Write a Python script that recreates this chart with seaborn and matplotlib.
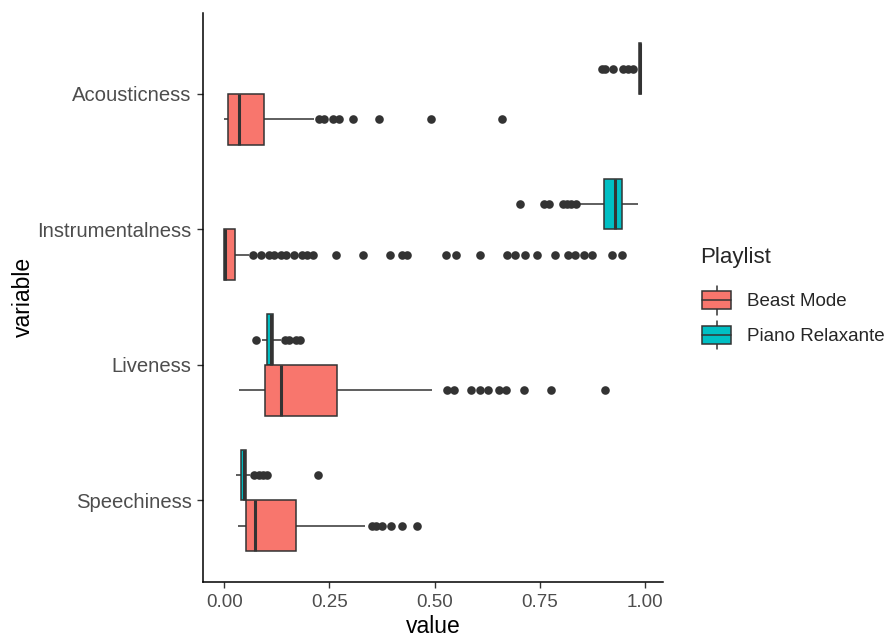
import numpy as np
import pandas as pd
import matplotlib
matplotlib.use('Agg')
import matplotlib.pyplot as plt
import seaborn as sns
from matplotlib.patches import Patch, Rectangle
from matplotlib.lines import Line2D
from matplotlib.legend_handler import HandlerBase

sns.set_style("ticks")
plt.rcParams['font.family'] = ['Liberation Sans', 'DejaVu Sans']

variables = ['Acousticness', 'Instrumentalness', 'Liveness', 'Speechiness']
playlists = ['Beast Mode', 'Piano Relaxante']
colors = {'Beast Mode': '#F8766D', 'Piano Relaxante': '#00BFC4'}

# values (box, whiskers and the outlier dots)
acoustic_beast = [0.000, 0.002, 0.003, 0.004, 0.005, 0.006, 0.007, 0.008, 0.009, 0.010,
                  0.012, 0.014, 0.017, 0.020, 0.023, 0.026, 0.029, 0.032, 0.035,
                  0.040, 0.046, 0.052, 0.058, 0.064, 0.071, 0.079, 0.087, 0.094,
                  0.214, 0.226, 0.238, 0.258, 0.273, 0.305, 0.368, 0.491, 0.660]
acoustic_piano = [0.897, 0.905, 0.925, 0.949, 0.960, 0.972,
                  0.986, 0.987, 0.987, 0.988, 0.988, 0.988, 0.989, 0.989, 0.989, 0.989,
                  0.989, 0.989, 0.990, 0.990, 0.990, 0.990, 0.991, 0.991, 0.992]

instr_beast = [0.0, 0.0, 0.0, 0.0, 0.0, 0.0, 0.0, 0.0, 0.0, 0.0,
               0.0, 0.0, 0.0, 0.0, 0.0, 0.0, 0.0, 0.0, 0.0, 0.0,
               0.0, 0.0, 0.0, 0.0, 0.0, 0.0, 0.0, 0.0, 0.0, 0.0, 0.0,
               0.00002, 0.00004, 0.00006, 0.00008, 0.0001, 0.00012, 0.00015, 0.00018, 0.0002, 0.00023,
               0.00026, 0.0003, 0.00033, 0.00036, 0.0004, 0.00044, 0.00048, 0.00052, 0.00056, 0.0006,
               0.00064, 0.00068, 0.00072, 0.00076, 0.0008, 0.00084, 0.00088, 0.00092, 0.00096,
               0.001,
               0.0012, 0.0014, 0.0017, 0.002, 0.0023, 0.0027, 0.0031, 0.0036, 0.0041, 0.0047,
               0.0053, 0.006, 0.0067, 0.0075, 0.0083, 0.0092, 0.0101, 0.011, 0.012, 0.013,
               0.014, 0.0151, 0.0162, 0.0174, 0.0186, 0.0199, 0.0212, 0.0226, 0.024,
               0.026, 0.058,
               0.068, 0.088, 0.107, 0.119, 0.135, 0.147, 0.167, 0.186, 0.198, 0.210,
               0.265, 0.329, 0.394, 0.423, 0.435, 0.528, 0.552, 0.607, 0.672, 0.692,
               0.716, 0.743, 0.787, 0.818, 0.834, 0.854, 0.874, 0.921, 0.945]
instr_piano = [0.702, 0.759, 0.771, 0.806, 0.815, 0.825, 0.835, 0.846,
               0.903, 0.906, 0.909, 0.912, 0.915, 0.918, 0.921, 0.925, 0.929,
               0.931, 0.933, 0.935, 0.937, 0.939, 0.941, 0.943, 0.945,
               0.948, 0.951, 0.955, 0.959, 0.964, 0.970, 0.977, 0.984]

live_beast = [0.036, 0.045, 0.055, 0.062, 0.068, 0.074, 0.079, 0.084, 0.088, 0.091, 0.094,
              0.097, 0.100, 0.103, 0.106, 0.109, 0.112, 0.115, 0.119, 0.123, 0.127, 0.131,
              0.134, 0.140, 0.148, 0.157, 0.167, 0.178, 0.190, 0.204, 0.219, 0.235, 0.251,
              0.268, 0.494,
              0.530, 0.546, 0.587, 0.607, 0.626, 0.652, 0.669, 0.712, 0.777, 0.905]
live_piano = [0.075, 0.090, 0.095, 0.098, 0.100, 0.101, 0.104, 0.106, 0.108, 0.110, 0.111,
              0.112, 0.113, 0.115, 0.116, 0.117, 0.136, 0.145, 0.155, 0.170, 0.180]

speech_beast = [0.032, 0.036, 0.040, 0.043, 0.046, 0.048, 0.050, 0.052,
                0.055, 0.058, 0.061, 0.064, 0.067, 0.070, 0.0735,
                0.080, 0.090, 0.102, 0.116, 0.133, 0.151, 0.171, 0.335,
                0.352, 0.362, 0.374, 0.397, 0.423, 0.459]
speech_piano = [0.028, 0.031, 0.033, 0.035, 0.037, 0.039, 0.040,
                0.042, 0.043, 0.045, 0.046, 0.047, 0.048,
                0.049, 0.049, 0.050, 0.051, 0.051, 0.052, 0.062,
                0.072, 0.082, 0.092, 0.101, 0.222]

groups = {
    ('Acousticness', 'Beast Mode'): acoustic_beast,
    ('Acousticness', 'Piano Relaxante'): acoustic_piano,
    ('Instrumentalness', 'Beast Mode'): instr_beast,
    ('Instrumentalness', 'Piano Relaxante'): instr_piano,
    ('Liveness', 'Beast Mode'): live_beast,
    ('Liveness', 'Piano Relaxante'): live_piano,
    ('Speechiness', 'Beast Mode'): speech_beast,
    ('Speechiness', 'Piano Relaxante'): speech_piano,
}

rows = []
for (var, pl), vals in groups.items():
    for v in vals:
        rows.append({'variable': var, 'value': v, 'Playlist': pl})
df = pd.DataFrame(rows)

edge = '#333333'

fig = plt.figure(figsize=(8.93, 6.41), dpi=100)
ax = fig.add_axes([203.3 / 893, 1 - 581.7 / 641, 460 / 893, 569 / 641])

sns.boxplot(data=df, x='value', y='variable', hue='Playlist', order=variables,
            hue_order=['Piano Relaxante', 'Beast Mode'], palette=colors, saturation=1,
            width=0.75, gap=0, linecolor=edge, linewidth=1.1, whis=1.5,
            showcaps=False, legend=False, ax=ax,
            medianprops=dict(linewidth=2.2, color=edge),
            flierprops=dict(marker='o', markersize=6.2, markerfacecolor=edge,
                            markeredgecolor=edge, markeredgewidth=0))

ax.set_xlim(-0.0496, 1.0436)
ax.set_ylim(3.6, -0.6)
ax.set_xticks([0, 0.25, 0.5, 0.75, 1.0])
ax.set_xticklabels(['0.00', '0.25', '0.50', '0.75', '1.00'])
ax.tick_params(axis='both', length=4, width=1, color=edge, labelcolor='#4D4D4D', pad=4.5)
ax.tick_params(axis='x', labelsize=13.5)
ax.tick_params(axis='y', labelsize=14.6)
for s in ['top', 'right']:
    ax.spines[s].set_visible(False)
for s in ['left', 'bottom']:
    ax.spines[s].set_color('black')
    ax.spines[s].set_linewidth(1.1)
ax.set_xlabel('value', fontsize=16.5, color='black', labelpad=3)
ax.set_ylabel('variable', fontsize=16.5, color='black', labelpad=1.5)


class BoxKeyHandler(HandlerBase):
    def create_artists(self, legend, orig_handle, xdescent, ydescent, width, height, fontsize, trans):
        x0, y0 = -xdescent, -ydescent
        bh = height * 0.65
        by = y0 + (height - bh) / 2
        cx = x0 + width / 2
        wl = Line2D([cx, cx], [y0, by], color=edge, lw=1.1, transform=trans)
        wh = Line2D([cx, cx], [by + bh, y0 + height], color=edge, lw=1.1, transform=trans)
        box = Rectangle((x0, by), width, bh, facecolor=orig_handle.get_facecolor(),
                        edgecolor=edge, lw=1.1, transform=trans)
        med = Line2D([x0, x0 + width], [y0 + height / 2] * 2, color=edge, lw=1.1, transform=trans)
        return [wl, wh, box, med]


# legend title placed on its own, the keys below it
fig.text(700 / 893, 1 - 257 / 641, 'Playlist', fontsize=16, va='center', ha='left')
handles = [Patch(facecolor=colors[p]) for p in playlists]
fig.legend(handles, playlists, handler_map={Patch: BoxKeyHandler()},
           loc='center left', bbox_to_anchor=(702 / 893, 1 - 317.5 / 641), frameon=False,
           fontsize=13.5, handlelength=1.55, handleheight=2.0,
           labelspacing=0.32, handletextpad=0.85, borderpad=0, borderaxespad=0)

plt.savefig('out.png', dpi=100)
plt.close()
